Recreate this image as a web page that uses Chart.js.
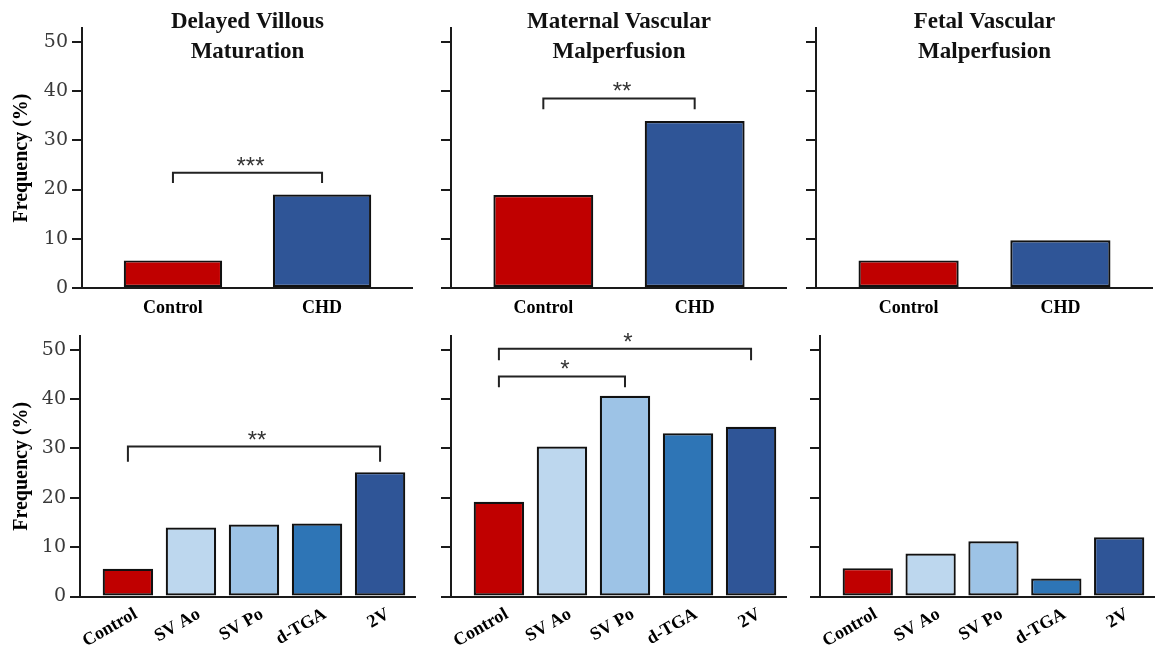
<!DOCTYPE html>
<html>
<head>
<meta charset="utf-8">
<script src="https://cdn.jsdelivr.net/npm/chart.js@4.4.1/dist/chart.umd.min.js"></script>
<style>
  html, body { margin: 0; padding: 0; background: #ffffff; }
  #wrap { position: relative; width: 1155px; height: 648px; overflow: hidden; background: #fff; }
  .panel { position: absolute; }
</style>
</head>
<body>
<div id="wrap"></div>
<script>
// ---------- DATA ----------
const topCategories = ['Control', 'CHD'];
const bottomCategories = ['Control', 'SV Ao', 'SV Po', 'd-TGA', '2V'];
const yTickValues = [0, 10, 20, 30, 40, 50];

const dvmTitle = ['Delayed Villous', 'Maturation'];
const mvmTitle = ['Maternal Vascular', 'Malperfusion'];
const fvmTitle = ['Fetal Vascular', 'Malperfusion'];

const dvmTop = [5.6, 19.0];
const mvmTop = [18.9, 33.9];
const fvmTop = [5.6, 9.7];

const dvmBottom = [5.6, 14.0, 14.6, 14.8, 25.2];
const mvmBottom = [19.2, 30.4, 40.7, 33.1, 34.4];
const fvmBottom = [5.75, 8.7, 11.2, 3.65, 12.0];

const dvmTopBrackets = [{ from: 0, to: 1, level: 23.4, leg: 21.3, label: '***' }];
const mvmTopBrackets = [{ from: 0, to: 1, level: 38.5, leg: 36.3, label: '**' }];
const dvmBottomBrackets = [{ from: 0, to: 4, level: 30.4, leg: 27.3, label: '**' }];
const mvmBottomBrackets = [
  { from: 0, to: 4, level: 50.2, leg: 47.9, label: '*' },
  { from: 0, to: 2, level: 44.6, leg: 42.4, label: '*' }
];

// ---------- STYLE ----------
const RED = '#C00000';
const topColors = [RED, '#2F5597'];
const bottomColors = [RED, '#BDD7EE', '#9DC3E6', '#2E75B6', '#2F5597'];
const AXIS = '#1a1a1a';

const titlePlugin = {
  id: 'panelTitle',
  afterDraw(chart, args, opts) {
    if (!opts.lines || !opts.lines.length) return;
    const ctx = chart.ctx, a = chart.chartArea;
    ctx.save();
    ctx.font = 'bold 23px "Liberation Serif", "Times New Roman", serif';
    ctx.fillStyle = '#111';
    ctx.textAlign = 'center';
    ctx.textBaseline = 'alphabetic';
    const cx = (a.left + a.right) / 2;
    opts.lines.forEach((t, i) => ctx.fillText(t, cx, opts.baseY + i * 30));
    ctx.restore();
  }
};

const bracketPlugin = {
  id: 'sigBrackets',
  afterDatasetsDraw(chart, args, opts) {
    const list = opts.items || [];
    const xs = chart.scales.x, ys = chart.scales.y, ctx = chart.ctx;
    ctx.save();
    list.forEach(b => {
      const x1 = xs.getPixelForValue(b.from), x2 = xs.getPixelForValue(b.to);
      const yl = ys.getPixelForValue(b.level), yg = ys.getPixelForValue(b.leg);
      ctx.strokeStyle = '#222';
      ctx.lineWidth = 2;
      ctx.beginPath();
      ctx.moveTo(x1, yg); ctx.lineTo(x1, yl); ctx.lineTo(x2, yl); ctx.lineTo(x2, yg);
      ctx.stroke();
      ctx.font = '24px "Liberation Sans", Arial, sans-serif';
      ctx.fillStyle = '#333';
      ctx.textAlign = 'center';
      ctx.textBaseline = 'alphabetic';
      ctx.fillText(b.label, (x1 + x2) / 2 + 3, yl + 1);
    });
    ctx.restore();
  }
};

function makePanel(cfg) {
  const div = document.createElement('div');
  div.className = 'panel';
  div.style.left = cfg.left + 'px';
  div.style.top = cfg.top + 'px';
  div.style.width = cfg.width + 'px';
  div.style.height = cfg.height + 'px';
  const canvas = document.createElement('canvas');
  div.appendChild(canvas);
  document.getElementById('wrap').appendChild(div);

  const cats = cfg.categories;
  new Chart(canvas, {
    type: 'bar',
    data: {
      datasets: [{
        data: cfg.values.map((v, i) => ({ x: i, y: v })),
        backgroundColor: cfg.colors,
        borderColor: '#111',
        borderWidth: 2.2,
        borderSkipped: false,
        categoryPercentage: 1,
        barPercentage: cfg.barPct
      }]
    },
    plugins: [titlePlugin, bracketPlugin],
    options: {
      responsive: true,
      maintainAspectRatio: false,
      animation: false,
      layout: { padding: { top: cfg.padTop, right: 0, left: 0, bottom: 0 } },
      plugins: {
        legend: { display: false },
        tooltip: { enabled: false },
        panelTitle: { lines: cfg.title || [], baseY: 28 },
        sigBrackets: { items: cfg.brackets || [] }
      },
      scales: {
        x: {
          type: 'linear',
          offset: false,
          min: cfg.xMin,
          max: cfg.xMax,
          afterBuildTicks: s => { s.ticks = cats.map((c, i) => ({ value: i })); },
          afterFit: s => { s.height = cfg.xAxisH; },
          grid: { display: false, drawTicks: false, offset: false },
          border: { display: true, color: AXIS, width: 2 },
          ticks: {
            autoSkip: false,
            callback: v => cats[v],
            minRotation: cfg.rot,
            maxRotation: cfg.rot,
            padding: cfg.xPad,
            labelOffset: cfg.rot ? 8 : 0,
            color: '#000',
            font: { family: '"Liberation Serif", "Times New Roman", serif', weight: 'bold', size: 18 }
          }
        },
        y: {
          min: 0,
          max: 52.8,
          afterBuildTicks: s => { s.ticks = yTickValues.map(v => ({ value: v })); },
          afterFit: s => { s.width = cfg.yAxisW; },
          grid: { display: true, drawOnChartArea: false, drawTicks: true, tickLength: 10, color: AXIS, lineWidth: 2 },
          border: { display: true, color: AXIS, width: 2 },
          ticks: {
            display: cfg.showY,
            padding: 4,
            color: '#3a3a3a',
            font: { family: '"DejaVu Serif", serif', size: 19 }
          },
          title: {
            display: cfg.showY,
            text: 'Frequency (%)',
            color: '#000',
            padding: { top: 10, bottom: 0 },
            font: { family: '"Liberation Serif", "Times New Roman", serif', weight: 'bold', size: 20 }
          }
        }
      }
    }
  });
}

// ---------- LAYOUT ----------
const topRow = { top: 0, height: 320, padTop: 28, xAxisH: 32, xMin: -0.61, xMax: 1.61, barPct: 0.66, rot: 0, xPad: 10, categories: topCategories, colors: topColors };
const botRow = { top: 320, height: 328, padTop: 16, xAxisH: 51.5, xMin: -0.76, xMax: 4.57, barPct: 0.80, rot: 30, xPad: 7, categories: bottomCategories, colors: bottomColors };

makePanel(Object.assign({}, topRow, { left: 0, width: 413, yAxisW: 82, showY: true, values: dvmTop, title: dvmTitle, brackets: dvmTopBrackets }));
makePanel(Object.assign({}, topRow, { left: 420, width: 367, yAxisW: 31, showY: false, values: mvmTop, title: mvmTitle, brackets: mvmTopBrackets }));
makePanel(Object.assign({}, topRow, { left: 790, width: 363, yAxisW: 26, showY: false, values: fvmTop, title: fvmTitle, brackets: [] }));

makePanel(Object.assign({}, botRow, { left: 0, width: 416, yAxisW: 80, showY: true, values: dvmBottom, brackets: dvmBottomBrackets }));
makePanel(Object.assign({}, botRow, { left: 420, width: 367, yAxisW: 31, showY: false, values: mvmBottom, brackets: mvmBottomBrackets }));
makePanel(Object.assign({}, botRow, { left: 790, width: 365, yAxisW: 30, showY: false, values: fvmBottom, brackets: [] }));
</script>
</body>
</html>
